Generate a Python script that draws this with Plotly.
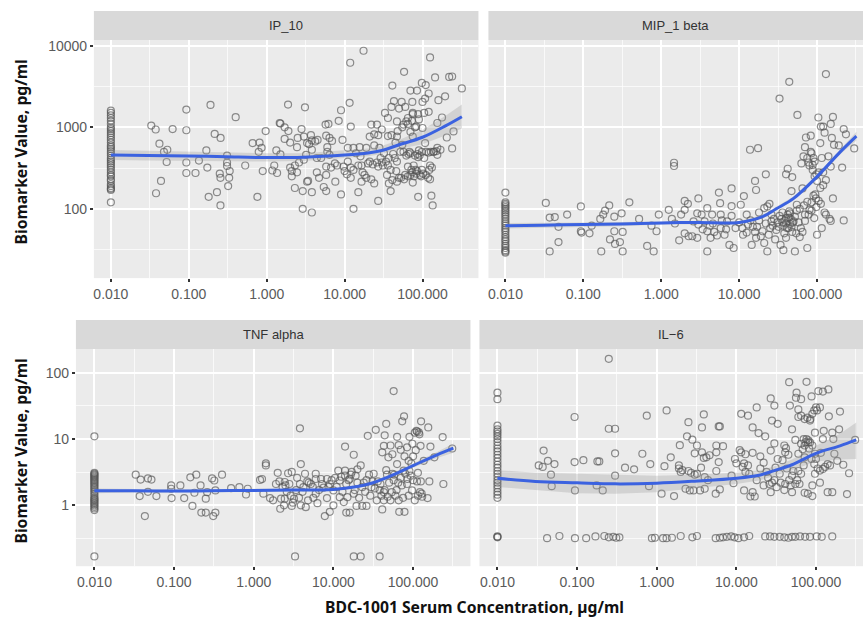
import plotly.graph_objects as go

# (concentration, biomarker value)
conc_zero = 0.01
ip10_column = [1600,1500,1400,1300,1200,1100,1000,950,900,850,800,750,700,650,600,570,540,510,480,450,420,400,380,360,340,320,300,280,260,250,230,220,200,190,180,175,170,120]
ip10_points = [(.033,1050),(.0376,940),(.062,950),(.093,920),(.093,1650),(.19,1880),(.40,1330),(.215,830),(.256,740),(.042,630),(.048,500),(.053,530),(.052,375),(.093,370),(.093,275),(.122,275),(.135,390),(.168,520),(.173,320),(.044,220),(.038,155),(.18,140),(.23,160),(.255,110),(.25,270),(.255,240),(.31,450),(.31,370),(.31,335),(.335,290),(.33,240),(.32,190),(.53,340),(.66,640),(.81,650),(.86,560),(.79,500),(.97,900),(.89,290),(.76,140),(1.18,295),(1.36,275),(1.25,340),(1.33,520),(1.47,1130),(1.5,1110),(1.7,1000),(1.9,900),(1.7,720),(2,650),(1.5,465),(1.88,1900),(3.1,1760),(2.8,950),(2.5,740),(3,770),(2.45,570),(2.3,340),(2,320),(2.1,290),(2.45,280),(2.1,250),(2.3,180),(2.9,165),(2.9,100),(3.8,90),(3.8,160),(3.3,215),(3.4,220),(2.6,370),(3,400),(3.2,460),(3.7,800),(3.8,690),(3.3,640),(4.2,670),(3.8,530),(4.4,420),(4.4,280),(4.7,240),(5.8,260),(5.7,1080),(6.2,1100),(5.8,790),(6.4,740),(6,570),(6.4,460),(5.8,330),(6.7,320),(5.4,185),(5.8,165),(7.6,215),(9,150),(9,1620),(8.4,1200),(9.4,700),(11.6,2000),(11.8,6200),(17.5,8700),(12,1020),(13,100),(15,160),(16.5,215),(12,240),(10.7,265),(9.7,330),(11,380),(13,560),(15.6,570),(21,770),(22,1080),(26,1080),(27,125),(24,205),(18,260),(16.5,340),(21,380),(26,370),(30,940),(33,1500),(36,1300),(41,3250),(58,4800),(43,2100),(40,1780),(54,2050),(74,2050),(70,2820),(85,2820),(98,3500),(110,3300),(125,7200),(145,4100),(220,4150),(240,4200),(320,3000),(160,2150),(195,2400),(120,2600),(100,2050),(108,2250),(120,1550),(178,1320),(155,1130),(205,750),(250,890),(240,550),(170,530),(138,500),(120,490),(98,500),(108,640),(125,230),(130,145),(135,110),(88,140),(75,210),(65,250),(83,270),(93,260),(125,340),(132,320),(98,300),(77,340),(65,330),(47,215),(60,260),(41,225),(39,165),(37,205),(47,380),(37,420),(31,340),(35,260),(47,770),(40,800),(57,1080),(65,1300),(75,1450),(88,1450),(47,1180),(62,1180),(75,770),(57,500),(70,480),(88,430),(100,980),(50,1700),(60,1780),(75,1500),(83,1020),(155,560),(155,460),(110,260),(30,370),(34,380),(44,420),(52,500),(66,470),(80,450),(90,520),(72,300),(85,290),(55,610),(45,650),(28,560),(19,560),(24,600),
 (14,480),(16,440),(20,360),(23,350),(27,330),(29,420),(32,480),(36,340),(39,300),(42,470),(46,290),(50,240),(53,240),(58,230),(62,450),(68,500),(70,260),(74,280),(78,250),(82,300),(86,470),(92,450),(96,250),(102,270),(105,420),(112,500),(118,240),(122,300),(128,500),(140,500),(150,510),(70,880),(80,1000),(90,1250),(105,1500),(55,1000),(65,1100),(73,1200),(48,900),(36,780),(27,800),(24,820),(7.5,360),(8,340),(10,290),(12,320),(13,300),(3.5,620),(4.5,700),(5,420),(6.9,680),(6,500),(11,560),(15,340),(17,280),(19,240),(22,230)]

mip1_column = [158,120,115,110,105,100,95,90,85,80,75,70,66,62,58,55,52,48,45,42,40,37,35,33,31,30,29]
mip1_points = [(.033,118),(.037,30),(.037,78),(.043,79),(.048,39),(.048,60),(.062,85),(.093,107),(.093,53),(.095,51),(.12,50),(.128,62),(.17,30),(.165,75),(.18,85),(.19,95),(.215,110),(.22,42),(.25,53),(.255,37),(.25,80),(.295,39),(.31,88),(.32,30),(.32,52),(.39,120),(.52,75),(.66,35),(.75,62),(.8,30),(.87,53),(.93,85),(1.25,97),(1.37,75),(1.46,367),(1.46,335),(1.5,66),(1.7,41),(1.8,85),(2,125),(2.2,115),(2,97),(2,50),(2.25,46),(2.5,46),(2.9,44),(3.0,134),(2.9,88),(3.3,85),(3.0,64),(3.9,102),(3.9,30),(3.9,53),(4.3,44),(4.5,85),(4.6,66),(5.5,158),(5.7,117),(5.8,85),(5.8,58),(7.5,36),(8.5,33),(8,178),(8,108),(10.5,112),(11.5,143),(11.2,48),(12.5,51),(9,58),(12.5,85),(13.8,530),(17.5,555),(16,220),(16.5,170),(22,265),(24.5,115),(23,107),(21,102),(14.5,36),(16.5,44),(21,38),(23,30),(20,53),(24,48),(27,62),(29,42),(33,2250),(44,3620),(56,1420),(130,4500),(104,1320),(160,1340),(112,1020),(120,1020),(150,1100),(125,860),(220,950),(235,820),(300,550),(72,750),(83,790),(70,570),(83,500),(67,440),(63,360),(110,640),(155,740),(165,610),(190,600),(140,440),(115,420),(210,320),(93,380),(88,345),(150,330),(42,310),(40,265),(48,245),(47,165),(65,178),(93,250),(98,265),(120,195),(130,225),(160,134),(90,145),(97,134),(112,115),(75,122),(55,112),(125,90),(145,75),(150,71),(220,72),(115,58),(100,48),(75,33),(52,30),(37,31),(34,36),(40,44),(42,85),(44,93),(40,77),(41,58),(49,68),(62,58),(70,71),(92,77),(46,75),(35,75),(37,62),(31,68),(70,85),(80,97),(98,105),(130,85),(15,60),(18,72),(26,85),(30,55),(38,50),(45,65),(52,80),(60,45),(48,52),(55,95),(36,90),(28,75),(19,46),(7,70),(6.5,48),(8,82),
 (2.6,70),(3.4,56),(3.6,70),(4.2,62),(4.8,52),(5.2,47),(6,72),(6.8,56),(10,68),(11,58),(13,64),(14,72),(16,52),(17,60),(18,90),(22,66),(25,58),(26,70),(32,60),(33,82),(36,68),(39,72),(40,66),(43,58),(44,78),(45,88),(47,60),(50,70),(54,50),(58,68),(65,52),(68,110),(78,85),(85,120),(88,300),(78,370),(80,340),(95,150),(105,125),(85,95),(110,180),(100,220),(75,420),(90,420),(85,480),(105,280),(120,280),(60,100)]

tnf_column = [11,3.1,3,2.9,2.8,2.7,2.6,2.5,2.4,2.3,2.2,2.1,2,1.9,1.8,1.7,1.6,1.5,1.4,1.3,1.25,1.2,1.15,1.1,1.05,1,.95,.9,.85,.17]
tnf_points = [(.033,2.9),(.038,2.45),(.037,1.38),(.043,.69),(.047,2.55),(.052,2.45),(.047,1.6),(.06,1.38),(.092,2),(.092,1.78),(.093,1.29),(.12,2),(.134,1.29),(.16,2.65),(.19,2.9),(.215,2),(.18,1.55),(.17,.98),(.22,.78),(.25,.78),(.25,1.26),(.26,1.58),(.3,2.55),(.32,2.37),(.33,.78),(.31,.69),(.4,2.9),(.33,1.68),(.52,1.82),(.66,1.88),(.8,1.46),(.84,1.78),(1.2,2.42),(1.27,2.5),(1.42,4.3),(1.42,4),(1.32,1.5),(1.6,1.29),(1.75,1.19),(2,3.1),(1.9,2.1),(2.15,.89),(2.4,1),(2.2,1.26),(2.45,1.26),(2.45,2.25),(2.7,3.05),(3,3.2),(2.8,2.1),(3,.98),(3.8,14.5),(3.3,.17),(3.9,4.2),(4.4,3),(3.8,2.1),(3.2,1.26),(3.9,1),(4.5,.94),(4.8,1.19),(4.2,1.88),(6,3),(6,2.5),(6.3,1.08),(6,1.5),(7,2.5),(7.8,.69),(9,.8),(8.3,2.5),(8.3,1.29),(10,1),(11.5,3.35),(12,1.33),(13.5,1.12),(14.5,.78),(16,.78),(14,7.7),(18,5.8),(18,.17),(22,.17),(38,.17),(14,3.35),(17,3.2),(22,4),(20,3.5),(19.5,.98),(23,.98),(26,.98),(27,11.2),(34,13.8),(44,11.4),(46,17),(57,53),(77,22),(73,18.5),(126,18.5),(155,15),(110,13.3),(105,12.5),(120,11.8),(235,10.7),(310,7.2),(165,7.7),(124,7.9),(63,10.8),(90,10.8),(43,7.9),(52,8),(41,6.3),(66,8.1),(84,7.5),(49,5.3),(63,4.2),(88,4.7),(46,3.4),(76,3.35),(136,4.7),(185,5.3),(240,2.1),(160,2.3),(112,2.3),(84,2.1),(57,2.4),(39,2.1),(30,1.88),(43,1.58),(54,1.58),(35,1.19),(43,1.19),(52,1.19),(66,1.19),(41,.87),(67,.8),(78,.8),(105,1.19),(152,1.29),(122,1.58),(128,1.5),(88,1.4),(97,1.68),(10,1.68),(12,2.37),(14.5,2.1),(18,1.5),(15,1.33),(23,1.88),(26,2.4),(32,3),(4.9,2.2),(5.5,1.9),(3.4,1.7),(2.6,1.6),(7.5,1.85),(9,2.1),(16,2.5),(19,2.8),(24,2.2),(28,2.9),(38,1.7),(48,1.35),(60,1.4),(70,2.6),(80,3),(93,2.8),(100,2.4),(115,1.4),(130,1.35),(47,2.9),(36,2.3),
 (2.1,2.3),(2.3,1.9),(2.5,2),(2.9,1.4),(3.1,1.1),(3.5,2.6),(3.7,1.3),(4.1,1.6),(4.7,2.3),(5.2,2.1),(5.6,1.3),(6.6,1.7),(7.2,2.1),(8.7,1.9),(9.5,2.4),(10.5,2.6),(11,1.9),(12.5,2.7),(13,1.6),(14,2.8),(15.5,2.4),(16.5,2.9),(18.5,1.7),(20,2.2),(21,1.3),(25,1.6),(29,1.4),(31,2.3),(33,1.8),(40,1.4),(44,1.7),(50,2.2),(55,3),(58,2.9),(62,1.7),(65,2.2),(72,2),(75,1.3),(85,2.5),(90,3.3),(95,4.3),(100,5.5),(108,6.8),(115,3.1),(125,2.3),(78,5.5),(70,6.9),(55,5.9),(98,8.5),(112,13),(118,12.6)]

il6_column = [50,40,16,14,13,12,11,10,9,8,7.2,6.5,5.8,5.2,4.6,4.1,3.7,3.3,3,2.7,2.4,2.2,2,1.8,1.6,1.45,1.3,.34,.335,.33]
il6_points = [(.25,162),(.093,21.5),(.75,22.5),(1.33,27),(3.9,23.5),(.25,14.3),(.3,14.3),(2.5,18),(3.7,15),(6,15.5),(6.2,15.5),(11.5,24),(14,22.5),(18,30),(27,41),(30,32),(46,72),(76,73),(57,50),(56,42),(65,40),(47,32),(60,28),(65,22.5),(60,21.5),(88,44),(107,53),(122,52),(143,56),(112,30),(103,27),(90,24),(84,19),(145,22),(200,26),(97,12.5),(125,13.3),(195,14),(160,12.5),(122,10),(165,10),(310,9.7),(28,19),(33,17),(50,14),(55,9.7),(16,15),(19,12.3),(23,11),(30,8.6),(27,6.7),(40,8),(41,6.3),(72,8),(80,8.9),(90,8),(76,10),(84,8.9),(2.4,11),(2.8,9.8),(1.95,8.1),(3.2,8),(3,6.1),(3.7,6.3),(4.2,5.3),(4.6,5.7),(5.6,8),(6.8,7.8),(5.6,6.3),(6,4.5),(11.5,6.3),(9.6,5),(16,6.2),(20,5.5),(22,4.4),(12.5,4.3),(14,4),(10,4.3),(1.25,3.9),(1.5,5.3),(1.9,4),(2,3.2),(.83,4.2),(.66,6),(.3,6.1),(.4,3.7),(.52,3.5),(.3,2.8),(.18,4.6),(.19,4.6),(.12,4.8),(.093,4.5),(.038,6.7),(.033,4),(.037,3.8),(.043,4.7),(.052,4.2),(.047,2.9),(.048,1.95),(.094,1.68),(.176,2),(.21,1.68),(.8,1.95),(1.15,1.5),(1.65,1.38),(2.3,1.78),(2.6,1.68),(2.9,1.68),(3.5,1.68),(4,1.78),(5.5,1.5),(6.2,1.74),(5.6,3.3),(2.5,3.3),(3.2,3),(4,2.66),(9.2,2.16),(8.7,2.8),(12.5,1.68),(16,1.58),(15,1.36),(17,1.36),(22,2),(26,2.1),(27,1.58),(32,1.88),(41,2.1),(50,1.58),(50,2.8),(60,3.3),(72,1.55),(79,1.5),(90,1.38),(112,2.2),(140,1.58),(160,1.58),(245,1.48),(260,3.05),(220,4.1),(185,4.7),(140,4.2),(122,3.55),(97,3),(90,2),(112,3.35),(72,5.3),(97,6),(60,6),(35,3),(43,3.6),(30,2.4),(70,4),(24,3.2),(13,3.2),(18,2.4),(36,2.2),(46,2.4),(55,2.1),(65,3),
 (11,6.8),(12,3.8),(13,5.9),(14.5,3),(20,3.6),(25,2.6),(28,2.2),(31,3.7),(33,5),(38,4.8),(40,1.7),(45,5.8),(48,2),(52,3.3),(58,2.4),(62,2.1),(68,7),(74,9),(82,7.2),(88,5),(95,4.2),(100,5),(105,3.6),(115,6.2),(130,3.8),(150,4),(170,6),(72,20),(78,21),(85,20),(95,27),(100,30),(65,8.5),(70,10),(80,9.6),(42,7.3),(2.7,3.1),(3,2.9),(3.6,3.7),(3.9,5.2),(4.4,2.4),(1.9,3.6),(2.1,3.4)]
il6_low_x = [.042,.06,.094,.13,.17,.22,.25,.285,.31,.34,.87,.95,1.2,1.33,1.55,2,2.8,3.2,5.5,6.2,6.8,7.6,8.6,9.5,10.6,12.5,14.5,23,26.5,30,35,40,45,50,55,63,73,84,102,118,160]
il6_low_y = [.32,.345,.32,.32,.34,.345,.33,.335,.325,.33,.32,.325,.32,.32,.325,.345,.33,.345,.32,.325,.33,.335,.34,.33,.32,.33,.345,.34,.34,.335,.335,.33,.325,.335,.335,.34,.335,.335,.34,.335,.34]

smooth_x = [.01,.03,.1,.3,1,3,10,20,30,50,100,200,320]
ip10_fit = [457,450,445,435,425,430,457,485,520,610,755,1050,1350]
ip10_hi = [527,515,500,490,480,480,517,550,590,700,930,1400,1900]
ip10_lo = [397,390,385,382,380,385,417,440,470,540,620,800,970]
mip1_fit = [62,63,64,65,67,68,68,80,100,134,248,503,780]
mip1_hi = [67,67,68,69,70,71,71,84,105,141,262,540,880]
mip1_lo = [57,59,60,61,64,65,65,76,95,127,235,470,690]
tnf_fit = [1.66,1.66,1.65,1.66,1.68,1.7,1.74,1.93,2.16,2.72,3.98,5.8,7.3]
tnf_hi = [1.8,1.76,1.74,1.75,1.76,1.78,1.82,2.02,2.27,2.9,4.3,6.4,8.6]
tnf_lo = [1.53,1.56,1.57,1.58,1.6,1.63,1.66,1.84,2.05,2.55,3.7,5.2,6.2]
il6_fit = [2.57,2.3,2.19,2.11,2.16,2.32,2.57,2.88,3.35,4.1,6.1,7.9,9.7]
il6_hi = [3.4,3.1,3,2.9,2.8,2.9,3.1,3.4,3.9,4.9,7.9,12,17.8]
il6_lo = [1.9,1.7,1.53,1.5,1.58,1.8,2.1,2.4,2.8,3.4,4.6,4.9,5]

panel_titles = ["IP_10", "MIP_1 beta", "TNF alpha", "IL\u22126"]
x_tick_vals = [.01,.1,1,10,100]
x_tick_text = ["0.010","0.100","1.000","10.000","100.000"]
x_minor = [.00316,.0316,.316,3.16,31.6,316]
top_y_vals = [100,1000,10000]
top_y_minor = [31.6,316,3160]
bot_y_vals = [1,10,100]
bot_y_minor = [.316,3.16,31.6]

W, H = 863, 624
panels = [
    dict(col=ip10_column, pts=ip10_points, fit=ip10_fit, hi=ip10_hi, lo=ip10_lo, box=(93,478,38,277), strip=(9,38), xr=[-2.218,2.718], yr=[1.149,4.073], yv=top_y_vals, ym=top_y_minor, lab=True),
    dict(col=mip1_column, pts=mip1_points, fit=mip1_fit, hi=mip1_hi, lo=mip1_lo, box=(488,863,38,277), strip=(9,38), xr=[-2.218,2.59], yr=[1.149,4.073], yv=top_y_vals, ym=top_y_minor, lab=False),
    dict(col=tnf_column, pts=tnf_points, fit=tnf_fit, hi=tnf_hi, lo=tnf_lo, box=(75,470,348,566), strip=(319,348), xr=[-2.232,2.72], yr=[-0.917,2.36], yv=bot_y_vals, ym=bot_y_minor, lab=True),
    dict(col=il6_column, pts=il6_points+list(zip(il6_low_x,il6_low_y)), fit=il6_fit, hi=il6_hi, lo=il6_lo, box=(479,863,348,566), strip=(319,348), xr=[-2.226,2.59], yr=[-0.917,2.36], yv=bot_y_vals, ym=bot_y_minor, lab=False),
]

fig = go.Figure()
shapes, annos, axes = [], [], {}
TICK = "#5a5a5a"
for i, p in enumerate(panels, start=1):
    l, r, t, b = p["box"]
    xa, ya = f"x{i}", f"y{i}"
    xs = [conc_zero]*len(p["col"]) + [q[0] for q in p["pts"]]
    ys = list(p["col"]) + [q[1] for q in p["pts"]]
    fig.add_trace(go.Scatter(x=xs, y=ys, mode="markers", xaxis=xa, yaxis=ya, showlegend=False,
        marker=dict(symbol="circle-open", size=7, color="rgba(85,85,85,0.65)", line=dict(width=1.2))))
    fig.add_trace(go.Scatter(x=smooth_x+smooth_x[::-1], y=p["hi"]+p["lo"][::-1], mode="lines", fill="toself",
        fillcolor="rgba(153,153,153,0.3)", line=dict(width=0), xaxis=xa, yaxis=ya, showlegend=False))
    fig.add_trace(go.Scatter(x=smooth_x, y=p["fit"], mode="lines", line=dict(color="#3b62e0", width=3, shape="spline"),
        xaxis=xa, yaxis=ya, showlegend=False))
    axes["xaxis" if i == 1 else f"xaxis{i}"] = dict(type="log", range=p["xr"], domain=[l/W, r/W], anchor=ya,
        tickvals=x_tick_vals, ticktext=x_tick_text, ticks="outside", ticklen=3, tickwidth=1.5, tickcolor="#333333",
        tickfont=dict(family="Liberation Sans", size=14, color=TICK), showgrid=True, gridcolor="white", gridwidth=1.6,
        minor=dict(tickvals=x_minor, showgrid=True, gridcolor="rgba(255,255,255,0.7)", gridwidth=0.8, ticks=""),
        zeroline=False, showline=False)
    axes["yaxis" if i == 1 else f"yaxis{i}"] = dict(type="log", range=p["yr"], domain=[1-b/H, 1-t/H], anchor=xa,
        tickvals=p["yv"], ticktext=[str(v) for v in p["yv"]] if p["lab"] else None, showticklabels=p["lab"],
        ticks="outside" if p["lab"] else "", ticklen=3, tickwidth=1.5, tickcolor="#333333",
        tickfont=dict(family="Liberation Sans", size=14, color=TICK), showgrid=True, gridcolor="white", gridwidth=1.6,
        minor=dict(tickvals=p["ym"], showgrid=True, gridcolor="rgba(255,255,255,0.7)", gridwidth=0.8, ticks=""),
        zeroline=False, showline=False)
    s0, s1 = p["strip"]
    shapes.append(dict(type="rect", xref="paper", yref="paper", x0=l/W, x1=r/W, y0=1-s1/H, y1=1-s0/H,
                       fillcolor="#d9d9d9", line=dict(width=0), layer="below"))
    annos.append(dict(xref="paper", yref="paper", x=(l+r)/2/W, y=1-(s0+s1)/2/H, text=panel_titles[i-1], showarrow=False,
                      font=dict(family="Liberation Sans", size=13, color="#333333"), xanchor="center", yanchor="middle"))

for yc in (150, 450):
    annos.append(dict(xref="paper", yref="paper", x=20/W, y=1-yc/H, text="<b>Biomarker Value, pg/ml</b>", textangle=-90,
                      showarrow=False, font=dict(family="Noto Sans", size=15.7, color="#111111"), xanchor="center", yanchor="middle"))
annos.append(dict(xref="paper", yref="paper", x=474/W, y=1-607/H, text="<b>BDC-1001 Serum Concentration, \u00b5g/ml</b>",
                  showarrow=False, font=dict(family="Noto Sans", size=15.7, color="#111111"), xanchor="center", yanchor="middle"))

fig.update_layout(width=W, height=H, margin=dict(l=0, r=0, t=0, b=0), paper_bgcolor="white", plot_bgcolor="#ebebeb",
                  shapes=shapes, annotations=annos, showlegend=False, hovermode=False, **axes)
fig.write_html("out.html", config={"displayModeBar": False},
               post_script="document.body.style.margin='0';document.documentElement.style.overflow='hidden';")
